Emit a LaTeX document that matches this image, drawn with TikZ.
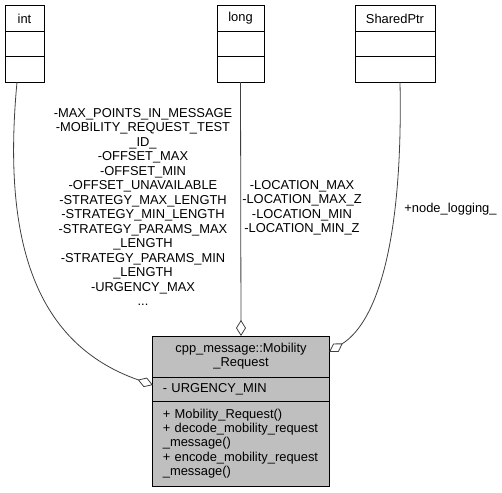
\documentclass[tikz,border=0pt]{standalone}
\usepackage{fontspec}
\setmainfont{Liberation Sans}
\usetikzlibrary{positioning,arrows.meta}
\begin{document}
\begin{tikzpicture}[x=1pt, y=1pt,
    font=\fontsize{12.9}{14.3}\selectfont,
    cell/.style={draw, line width=0.9pt, outer sep=0pt, inner sep=0pt, minimum height=25.5pt},
    part/.style={draw, line width=0.9pt, outer sep=0pt, fill=gray!50, minimum width=176.3pt,
        text width=156.3pt, inner xsep=10pt, inner ysep=0pt},
    edge/.style={draw=black!75, line width=0.8pt},
    agg/.style={-{Diamond[open, length=16pt, width=10pt]}},
    lbl/.style={align=center, font=\fontsize{12.9}{14.5}\selectfont}]
    \useasboundingbox (0,0) rectangle (502,492);
    % used classes
    \foreach \n/\x/\w/\t in {int/24.5/39/int, long/240.5/47/long, ptr/395/80/SharedPtr} {
        \node[cell, minimum width=\w pt, anchor=north] (\n) at (\x,486.3) {\t};
        \node[cell, minimum width=\w pt, below=0pt of \n] (\n2) {};
        \node[cell, minimum width=\w pt, below=0pt of \n2] (\n3) {};
    }
    % the class itself
    \node[part, align=center, minimum height=41pt, anchor=north] (cls) at (241,156) {cpp\_message::Mobility\\\_Request};
    \node[part, align=left, minimum height=24pt, below=0pt of cls] (attr) {- URGENCY\_MIN};
    \node[part, align=left, minimum height=85pt, below=0pt of attr] (meth) {+ Mobility\_Request()\\+ decode\_mobility\_request\\\_message()\\+ encode\_mobility\_request\\\_message()};
    % members
    \draw[edge, agg] ([xshift=-7.5pt]int3.south) .. controls (3,260) and (30,150) .. ([yshift=4pt]attr.west);
    \draw[edge, agg] (long3.south) -- (cls.north);
    \draw[edge, agg] ([xshift=5pt]ptr3.south) .. controls (403,260) and (380,172) .. ([yshift=4.5pt]cls.east);
    \node[lbl] (intlbl) at (143,285) {-MAX\_POINTS\_IN\_MESSAGE\\-MOBILITY\_REQUEST\_TEST\\\_ID\_\\-OFFSET\_MAX\\-OFFSET\_MIN\\-OFFSET\_UNAVAILABLE\\-STRATEGY\_MAX\_LENGTH\\-STRATEGY\_MIN\_LENGTH\\-STRATEGY\_PARAMS\_MAX\\\_LENGTH\\-STRATEGY\_PARAMS\_MIN\\\_LENGTH\\-URGENCY\_MAX\\...};
    \node[lbl] (longlbl) at (302,284) {-LOCATION\_MAX\\-LOCATION\_MAX\_Z\\-LOCATION\_MIN\\-LOCATION\_MIN\_Z};
    \node[lbl] (ptrlbl) at (450.5,283) {+node\_logging\_};
\end{tikzpicture}
\end{document}
